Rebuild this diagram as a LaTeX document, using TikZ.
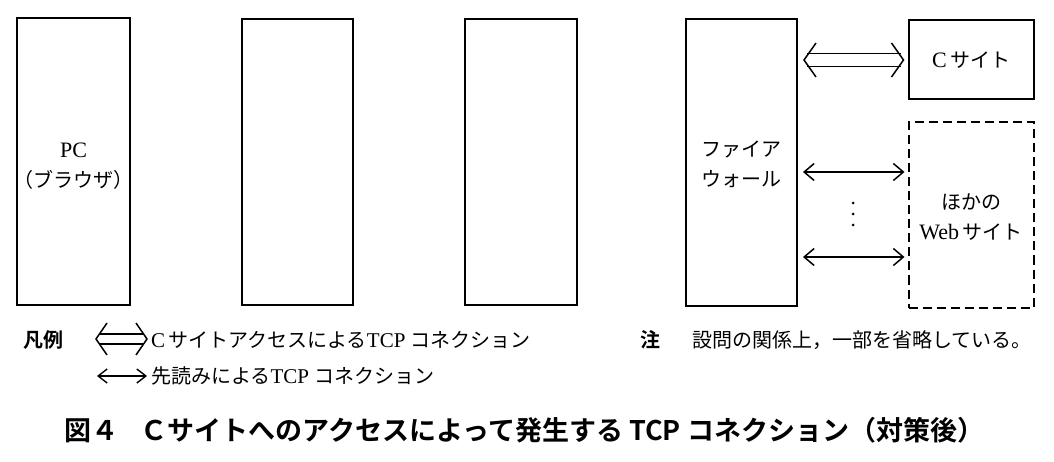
\documentclass[tikz,border=0pt]{standalone}
\usepackage{fontspec}
\setmainfont{Liberation Serif}
\newfontfamily\jp{Noto Sans CJK JP}
\newfontfamily\jpb{Noto Sans CJK JP Bold}
\usetikzlibrary{arrows.meta,calc}
\begin{document}
\begin{tikzpicture}[x=1pt,y=-1pt,
  box/.style={draw,line width=2pt,inner sep=0pt,align=center},
  dbox/.style={box,dash pattern=on 9pt off 5pt},
  single/.style={line width=1.5pt,{Straight Barb[length=10pt,width=17pt]}-{Straight Barb[length=10pt,width=17pt]}},
  dline/.style={line width=1.5pt},
  boxlab/.style={align=center,font=\fontsize{20}{30}\selectfont},
  lab/.style={anchor=west,inner sep=0pt,font=\fontsize{20}{24}\selectfont}]
\useasboundingbox (0,0) rectangle (1054,462);
\fill[white] (0,0) rectangle (1054,462);
% boxes
\node[box,minimum width=113pt,minimum height=287pt] (pc) at (73.5,161.5) {};
\node[box,minimum width=111pt,minimum height=286pt] (b2) at (297.5,162) {};
\node[box,minimum width=112pt,minimum height=286pt] (b3) at (521,162) {};
\node[box,minimum width=111pt,minimum height=287pt] (fw) at (741.5,162.5) {};
\node[box,minimum width=125pt,minimum height=79pt] (cs) at (971,60) {};
\node[dbox,minimum width=125pt,minimum height=185pt] (web) at (971,215) {};
% labels
\node[boxlab] (pct) at (73.5,166) {{\fontsize{22}{30}\selectfont PC}\\{\jp （ブラウザ）}};
\node[boxlab] (fwt) at (741.5,164) {{\jp ファイア}\\{\jp ウォール}};
\node[boxlab] (cst) at (971,60) {{\fontsize{22}{30}\selectfont C}\,{\jp サイト}};
\node[boxlab] (webt) at (971,217) {{\jp ほかの}\\{\fontsize{22}{30}\selectfont Web}\,{\jp サイト}};
% double arrow to C site
\coordinate (dl) at ($(fw.east|-cs.west)+(6,0)$);
\coordinate (dr) at ($(cs.west)+(-4,0)$);
\draw[dline] ($(dl)+(3,-6.5)$) -- ($(dr)+(-3,-6.5)$);
\draw[dline] ($(dl)+(3,6.5)$) -- ($(dr)+(-3,6.5)$);
\draw[dline,line join=miter] ($(dl)+(12,-17)$) -- (dl) -- ($(dl)+(12,17)$);
\draw[dline,line join=miter] ($(dr)+(-12,-17)$) -- (dr) -- ($(dr)+(-12,17)$);
% single arrows
\coordinate (a1l) at (803,172);
\coordinate (a1r) at ($(web.west|-a1l)+(-3,0)$);
\coordinate (a2l) at (803,257);
\coordinate (a2r) at ($(web.west|-a2l)+(-3,0)$);
\draw[single] (a1l) -- (a1r);
\draw[single] (a2l) -- (a2r);
% vertical dots
\foreach \yy in {203,214,225} \fill (853,\yy) circle (1.5pt);
% legend
\node[lab,font=\fontsize{20}{24}\selectfont\jpb] (hanrei) at (23,340) {凡例};
\coordinate (ll) at (96,339);
\coordinate (lr) at (147,339);
\draw[dline] ($(ll)+(3,-5)$) -- ($(lr)+(-3,-5)$);
\draw[dline] ($(ll)+(3,5)$) -- ($(lr)+(-3,5)$);
\draw[dline,line join=miter] ($(ll)+(11,-16)$) -- (ll) -- ($(ll)+(11,16)$);
\draw[dline,line join=miter] ($(lr)+(-11,-16)$) -- (lr) -- ($(lr)+(-11,16)$);
\node[lab] (l1) at (151,340) {{\fontsize{21}{24}\selectfont C}\,{\jp サイトアクセスによる}{\fontsize{21}{24}\selectfont TCP} {\jp コネクション}};
\coordinate (sl) at (97,376);
\coordinate (sr) at (147,376);
\draw[line width=1.4pt,{Straight Barb[length=9pt,width=14pt]}-{Straight Barb[length=9pt,width=14pt]}] (sl) -- (sr);
\node[lab] (l2) at (151,376) {{\jp 先読みによる}{\fontsize{21}{24}\selectfont TCP} {\jp コネクション}};
% note
\node[lab,font=\fontsize{20}{24}\selectfont\jpb] (chu) at (640,340) {注};
\node[lab] (note) at (692,340) {\jp 設問の関係上，一部を省略している。};
% caption
\node[inner sep=0pt,font=\fontsize{27}{30}\selectfont\jpb] (cap) at (524.5,430) {図４\hspace{0.8em}Ｃサイトへのアクセスによって発生する TCP コネクション（対策後）};
\end{tikzpicture}
\end{document}
